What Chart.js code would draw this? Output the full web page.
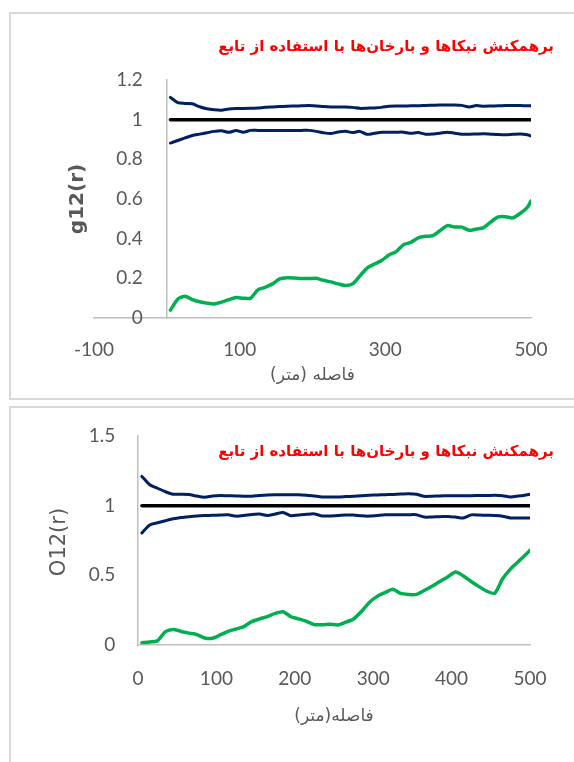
<!DOCTYPE html>
<html>
<head>
<meta charset="utf-8">
<script src="https://cdn.jsdelivr.net/npm/chart.js@4.4.1/dist/chart.umd.min.js"></script>
<style>
  html, body { margin: 0; padding: 0; background: #ffffff; }
  body { width: 574px; height: 762px; position: relative; overflow: hidden; }
  .frame { position: absolute; border: 2px solid #d9d9d9; box-sizing: border-box; }
  #f1 { left: 9px; top: 12px; width: 600px; height: 388px; }
  #f2 { left: 9px; top: 406px; width: 600px; height: 420px; }
  canvas { position: absolute; left: 0; }
  #c1 { top: 0; }
  #c2 { top: 400px; }
</style>
</head>
<body>
<div class="frame" id="f1"></div>
<div class="frame" id="f2"></div>
<canvas id="c1" width="574" height="400"></canvas>
<canvas id="c2" width="574" height="362"></canvas>
<script>
// Distance (m) at which each function value was computed
const distances = [5, 15, 25, 35, 45, 55, 65, 75, 85, 95,
  105, 115, 125, 135, 145, 155, 165, 175, 185, 195,
  205, 215, 225, 235, 245, 255, 265, 275, 285, 295,
  305, 315, 325, 335, 345, 355, 365, 375, 385, 395,
  405, 415, 425, 435, 445, 455, 465, 475, 485, 495, 500];

// g12(r): observed curve and upper / lower simulation envelopes
const g12Observed = [0.040, 0.095, 0.110, 0.093, 0.082, 0.075, 0.071, 0.080, 0.092, 0.103,
  0.100, 0.100, 0.142, 0.155, 0.172, 0.197, 0.203, 0.202, 0.199, 0.199,
  0.200, 0.190, 0.182, 0.172, 0.164, 0.172, 0.212, 0.252, 0.272, 0.290,
  0.318, 0.335, 0.370, 0.381, 0.404, 0.412, 0.415, 0.440, 0.466, 0.459,
  0.458, 0.442, 0.449, 0.456, 0.485, 0.510, 0.511, 0.505, 0.527, 0.558, 0.590];
const g12Upper = [1.112, 1.086, 1.082, 1.080, 1.065, 1.055, 1.050, 1.048, 1.054, 1.056,
  1.056, 1.057, 1.059, 1.062, 1.064, 1.066, 1.068, 1.069, 1.070, 1.071,
  1.069, 1.066, 1.064, 1.064, 1.064, 1.062, 1.057, 1.058, 1.059, 1.062,
  1.068, 1.069, 1.069, 1.070, 1.070, 1.072, 1.073, 1.074, 1.074, 1.074,
  1.072, 1.064, 1.071, 1.068, 1.069, 1.070, 1.071, 1.072, 1.071, 1.070, 1.070];
const g12Lower = [0.882, 0.895, 0.908, 0.920, 0.927, 0.934, 0.941, 0.944, 0.936, 0.945,
  0.937, 0.946, 0.946, 0.946, 0.946, 0.946, 0.946, 0.946, 0.946, 0.946,
  0.941, 0.934, 0.930, 0.938, 0.942, 0.935, 0.941, 0.926, 0.931, 0.936,
  0.937, 0.937, 0.937, 0.931, 0.935, 0.927, 0.928, 0.932, 0.937, 0.932,
  0.927, 0.927, 0.928, 0.929, 0.927, 0.925, 0.924, 0.926, 0.928, 0.924, 0.918];

// O12(r): observed curve and upper / lower simulation envelopes
const o12Observed = [0.017, 0.022, 0.031, 0.096, 0.112, 0.097, 0.085, 0.075, 0.050, 0.048,
  0.072, 0.098, 0.115, 0.132, 0.168, 0.187, 0.204, 0.227, 0.239, 0.203,
  0.187, 0.169, 0.146, 0.146, 0.149, 0.144, 0.164, 0.187, 0.241, 0.305,
  0.349, 0.376, 0.400, 0.370, 0.363, 0.363, 0.391, 0.422, 0.456, 0.488,
  0.524, 0.496, 0.456, 0.419, 0.386, 0.372, 0.475, 0.545, 0.598, 0.651, 0.680];
const o12Upper = [1.210, 1.150, 1.125, 1.100, 1.082, 1.082, 1.080, 1.069, 1.061, 1.069,
  1.073, 1.071, 1.070, 1.068, 1.068, 1.073, 1.077, 1.079, 1.079, 1.079,
  1.079, 1.075, 1.069, 1.063, 1.062, 1.062, 1.065, 1.068, 1.072, 1.075,
  1.077, 1.079, 1.081, 1.083, 1.085, 1.082, 1.067, 1.068, 1.070, 1.071,
  1.071, 1.072, 1.072, 1.073, 1.073, 1.074, 1.072, 1.063, 1.069, 1.077, 1.082];
const o12Lower = [0.805, 0.862, 0.877, 0.892, 0.906, 0.915, 0.921, 0.926, 0.929, 0.931,
  0.933, 0.934, 0.925, 0.929, 0.937, 0.940, 0.930, 0.940, 0.951, 0.928,
  0.933, 0.938, 0.941, 0.926, 0.926, 0.929, 0.933, 0.933, 0.927, 0.925,
  0.930, 0.935, 0.935, 0.935, 0.935, 0.935, 0.918, 0.919, 0.921, 0.923,
  0.918, 0.911, 0.934, 0.933, 0.931, 0.929, 0.924, 0.912, 0.911, 0.911, 0.911];

// Reference level (complete spatial randomness)
const refDistances = [5, 500];
const refLevel = [1, 1];

// Axis ranges and tick steps
const g12XRange = [-100, 500], g12XStep = 200;
const g12YRange = [0, 1.2], g12YStep = 0.2;
const o12XRange = [0, 500], o12XStep = 100;
const o12YRange = [0, 1.5], o12YStep = 0.5;

// Texts
const RLM = '\u200F';
const chartTitle = 'برهمکنش نبکاها و بارخان‌ها با استفاده از تابع';
const xTitleTop = 'فاصله (متر)';
const xTitleBottom = 'فاصله(متر)';
const yTitleTop = 'g12(r)';
const yTitleBottom = 'O12(r)';

const NAVY = '#002060', GREEN = '#00b050', BLACK = '#000000';
const AXIS = '#bfbfbf', LABEL = '#595959';
const tickFont = { family: 'Lato', size: 19 };

// Plain number labels: 1 rather than 1.0
const plainNumber = v => String(Number(v.toFixed(2)));

function points(xs, ys) { return xs.map((x, i) => ({ x: x, y: ys[i] })); }

function series(xs, ys, color, width) {
  return {
    data: points(xs, ys), borderColor: color, backgroundColor: color,
    borderWidth: width, pointRadius: 0, showLine: true, tension: 0.25,
    borderCapStyle: 'round', borderJoinStyle: 'round', yAxisID: 'y'
  };
}

// Free-standing texts: chart heading and rotated value-axis title
const captions = {
  id: 'captions',
  afterDraw(chart, args, opts) {
    const { ctx, chartArea } = chart;
    (opts.items || []).forEach(it => {
      ctx.save();
      ctx.font = it.font;
      ctx.fillStyle = it.color;
      ctx.textBaseline = 'middle';
      ctx.textAlign = it.align || 'center';
      const y = it.y != null ? it.y : (chartArea.top + chartArea.bottom) / 2;
      ctx.translate(it.x, y);
      if (it.rotate) ctx.rotate(it.rotate);
      ctx.fillText(it.text, 0, 0);
      ctx.restore();
    });
  }
};

function buildChart(canvasId, cfg) {
  return new Chart(document.getElementById(canvasId), {
    type: 'scatter',
    data: {
      datasets: [
        series(refDistances, refLevel, BLACK, 3.5),
        series(distances, cfg.upper, NAVY, 3),
        series(distances, cfg.lower, NAVY, 3),
        series(distances, cfg.observed, GREEN, 3.5)
      ]
    },
    options: {
      responsive: false,
      animation: false,
      layout: { padding: cfg.padding },
      plugins: {
        legend: { display: false },
        tooltip: { enabled: false },
        captions: { items: cfg.captions }
      },
      scales: {
        x: {
          type: 'linear', position: 'bottom',
          min: cfg.xRange[0], max: cfg.xRange[1],
          ticks: { stepSize: cfg.xStep, padding: cfg.xTickPad, color: LABEL, font: tickFont, maxRotation: 0, callback: plainNumber },
          grid: { display: false, drawTicks: false },
          border: { display: true, color: AXIS, width: 1.5 },
          title: {
            display: true, text: RLM + cfg.xTitle + RLM, color: LABEL,
            font: { family: 'DejaVu Sans', size: 17 },
            padding: { top: 0, bottom: cfg.xTitlePad }
          },
          afterFit(scale) { scale.height = cfg.xHeight; }
        },
        y: {
          type: 'linear', position: { x: 0 },
          min: cfg.yRange[0], max: cfg.yRange[1],
          ticks: { display: false, stepSize: cfg.yStep },
          grid: { display: false, drawTicks: false },
          border: { display: true, color: AXIS, width: 1.5 }
        },
        yLabels: {
          type: 'linear', position: { x: cfg.labelAt },
          min: cfg.yRange[0], max: cfg.yRange[1],
          ticks: { stepSize: cfg.yStep, padding: 0, color: LABEL, font: tickFont, callback: plainNumber },
          grid: { display: false, drawTicks: false },
          border: { display: false }
        }
      }
    },
    plugins: [captions]
  });
}

buildChart('c1', {
  observed: g12Observed, upper: g12Upper, lower: g12Lower,
  xRange: g12XRange, xStep: g12XStep, yRange: g12YRange, yStep: g12YStep,
  padding: { left: 94, right: 43, top: 80, bottom: 10 },
  xHeight: 72, xTickPad: 20, xTitle: xTitleTop, xTitlePad: 4, labelAt: -33,
  captions: [
    { text: RLM + chartTitle + RLM, x: 554, y: 47, align: 'right', font: 'bold 15px "DejaVu Sans"', color: '#ff0000' },
    { text: yTitleTop, x: 78, rotate: -Math.PI / 2, font: 'bold 20px "DejaVu Sans"', color: LABEL }
  ]
});

buildChart('c2', {
  observed: o12Observed, upper: o12Upper, lower: o12Lower,
  xRange: o12XRange, xStep: o12XStep, yRange: o12YRange, yStep: o12YStep,
  padding: { left: 138, right: 44, top: 36, bottom: 10 },
  xHeight: 107, xTickPad: 22, xTitle: xTitleBottom, xTitlePad: 25, labelAt: -29,
  captions: [
    { text: RLM + chartTitle + RLM, x: 554, y: 52, align: 'right', font: 'bold 15px "DejaVu Sans"', color: '#ff0000' },
    { text: yTitleBottom, x: 60, y: 142, rotate: -Math.PI / 2, font: '21px "DejaVu Sans"', color: LABEL }
  ]
});
</script>
</body>
</html>
